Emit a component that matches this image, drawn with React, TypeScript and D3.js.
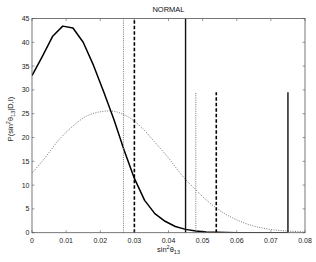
// App.tsx — posterior on sin^2(theta13), NORMAL hierarchy
// MATLAB-style boxed axes, solid + dotted posteriors, limit markers.

import * as d3 from "d3";
import React from "react";

// ── Data ──────────────────────────────────────────────────────────────────────
const solidX = [
  0, 0.003, 0.006, 0.009, 0.012, 0.015, 0.018, 0.021, 0.024, 0.027, 0.03,
  0.033, 0.036, 0.039, 0.042, 0.045, 0.048, 0.051, 0.054, 0.057, 0.06, 0.063,
  0.066, 0.069, 0.072, 0.075,
];
const solidY = [
  33.0, 37.0, 41.2, 43.4, 43.0, 40.0, 35.2, 29.6, 23.8, 17.3, 11.4, 6.8, 4.0,
  2.4, 1.3, 0.7, 0.35, 0.15, 0.07, 0.03, 0.01, 0, 0, 0, 0, 0,
];

const dottedX = [
  0, 0.004, 0.008, 0.012, 0.016, 0.02, 0.024, 0.028, 0.032, 0.036, 0.04, 0.044,
  0.048, 0.052, 0.056, 0.06, 0.064, 0.068, 0.072, 0.076, 0.08,
];
const dottedY = [
  12.5, 15.9, 19.6, 22.4, 24.5, 25.4, 25.5, 24.4, 22.2, 19.0, 15.7, 12.0, 9.0,
  6.3, 4.2, 2.7, 1.6, 0.9, 0.5, 0.3, 0.15,
];

// vertical limit markers: position, top value, style
const markerX = [0.0268, 0.03, 0.045, 0.048, 0.054, 0.075];
const markerTop = [45, 45, 45, 29.5, 29.5, 29.5];
const markerStyle = ["dot", "dash", "solid", "dot", "dash", "solid"];

const xTicks = [0, 0.01, 0.02, 0.03, 0.04, 0.05, 0.06, 0.07, 0.08];
const yTicks = [0, 5, 10, 15, 20, 25, 30, 35, 40, 45];

// ── Layout ────────────────────────────────────────────────────────────────────
const W = 316;
const H = 262;
const M = { left: 32, right: 305, top: 18.5, bottom: 232.7 };
const FONT = "'Liberation Sans', Arial, Helvetica, sans-serif";
const AXIS = "#555";
const TICK = 2.5;

export default function App() {
  const x = d3.scaleLinear().domain([0, 0.08]).range([M.left, M.right]);
  const y = d3.scaleLinear().domain([0, 45]).range([M.bottom, M.top]);

  const solid = d3
    .line<number>()
    .x((_, i) => x(solidX[i]))
    .y((d) => y(d))(solidY);

  const dotted = d3
    .line<number>()
    .x((_, i) => x(dottedX[i]))
    .y((d) => y(d))
    .curve(d3.curveCatmullRom)(dottedY);

  const styleOf = (s: string) => {
    if (s === "dot") return { stroke: "#777", width: 1, dash: "1,1.2" };
    if (s === "dash") return { stroke: "#000", width: 1.6, dash: "3.5,2" };
    return { stroke: "#111", width: 1.4, dash: undefined };
  };

  const cx = (M.left + M.right) / 2;

  return (
    <svg
      width={W}
      height={H}
      style={{ position: "absolute", left: 0, top: 0, background: "#fff" }}
      fontFamily={FONT}
    >
      <defs>
        <clipPath id="plot">
          <rect x={M.left} y={M.top} width={M.right - M.left} height={M.bottom - M.top} />
        </clipPath>
      </defs>

      {/* curves */}
      <g clipPath="url(#plot)" fill="none">
        <path d={dotted ?? ""} stroke="#777" strokeWidth={1} strokeDasharray="1,1.4" />
        <path d={solid ?? ""} stroke="#000" strokeWidth={1.5} strokeLinejoin="round" />
        {markerX.map((v, i) => {
          const s = styleOf(markerStyle[i]);
          return (
            <line
              key={i}
              x1={x(v)}
              x2={x(v)}
              y1={y(0)}
              y2={y(markerTop[i])}
              stroke={s.stroke}
              strokeWidth={s.width}
              strokeDasharray={s.dash}
            />
          );
        })}
      </g>

      {/* box */}
      <rect
        x={M.left}
        y={M.top}
        width={M.right - M.left}
        height={M.bottom - M.top}
        fill="none"
        stroke={AXIS}
        strokeWidth={0.8}
      />

      {/* x ticks */}
      {xTicks.map((t) => (
        <g key={"x" + t}>
          <line x1={x(t)} x2={x(t)} y1={M.bottom} y2={M.bottom - TICK} stroke={AXIS} strokeWidth={0.6} />
          <line x1={x(t)} x2={x(t)} y1={M.top} y2={M.top + TICK} stroke={AXIS} strokeWidth={0.6} />
          <text x={x(t)} y={M.bottom + 10} fontSize={7} textAnchor="middle" fill="#222">
            {t === 0 ? "0" : t.toFixed(2)}
          </text>
        </g>
      ))}

      {/* y ticks */}
      {yTicks.map((t) => (
        <g key={"y" + t}>
          <line x1={M.left} x2={M.left + TICK} y1={y(t)} y2={y(t)} stroke={AXIS} strokeWidth={0.6} />
          <line x1={M.right} x2={M.right - TICK} y1={y(t)} y2={y(t)} stroke={AXIS} strokeWidth={0.6} />
          <text x={M.left - 2.5} y={y(t) + 2.5} fontSize={7} textAnchor="end" fill="#222">
            {t}
          </text>
        </g>
      ))}

      {/* title */}
      <text x={cx} y={12} fontSize={7.5} textAnchor="middle" fill="#111">
        NORMAL
      </text>

      {/* x label */}
      <text x={cx} y={252} fontSize={7.5} textAnchor="middle" fill="#222">
        sin<tspan dy={-3} fontSize={5.5}>2</tspan>
        <tspan dy={3}>θ</tspan>
        <tspan dy={2} fontSize={5.5}>13</tspan>
      </text>

      {/* y label */}
      <text
        transform={`translate(12.5,${119}) rotate(-90)`}
        fontSize={7.5}
        textAnchor="middle"
        fill="#222"
      >
        P(sin<tspan dy={-3} fontSize={5.5}>2</tspan>
        <tspan dy={3}>θ</tspan>
        <tspan dy={2} fontSize={5.5}>13</tspan>
        <tspan dy={-2}>|D,I)</tspan>
      </text>
    </svg>
  );
}
